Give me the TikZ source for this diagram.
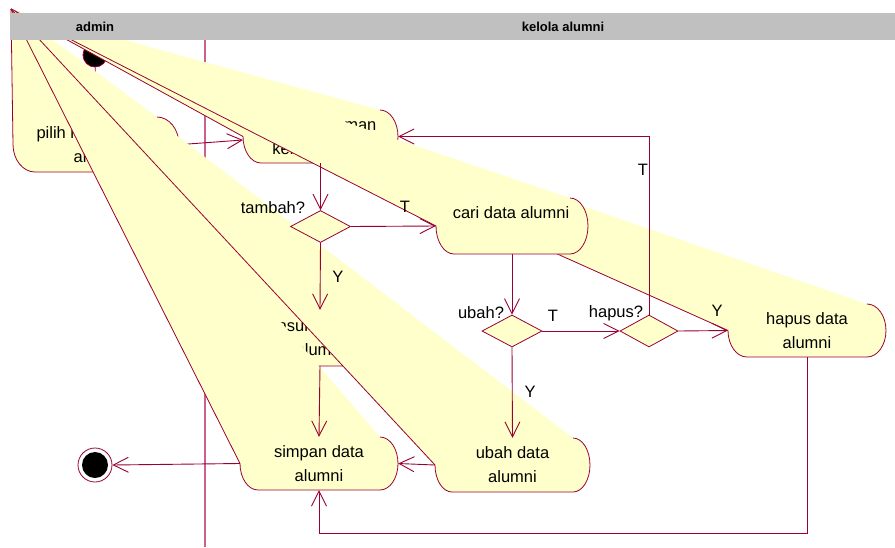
\documentclass[tikz,border=0pt]{standalone}
\usepackage{fontspec}
\setmainfont{Liberation Sans}
\usetikzlibrary{arrows.meta,shapes.geometric}
\definecolor{maroon}{RGB}{153,0,51}
\definecolor{lanecol}{RGB}{204,96,140}
\definecolor{actyellow}{RGB}{255,255,204}
\definecolor{hdr}{RGB}{192,192,192}
\newcommand\acttext{\fontsize{16.5}{24}\selectfont}
\newcommand\hdrtext{\bfseries\fontsize{13}{15}\selectfont}
\tikzset{
  actline/.style={draw=maroon, line width=0.8pt, line join=round},
  conn/.style={draw=maroon, line width=0.9pt, -{Straight Barb[length=15pt,width=15pt]}},
  plainconn/.style={draw=maroon, line width=0.9pt},
  actbox/.style={inner sep=0pt, align=center, font=\acttext, text=black},
  lbl/.style={inner sep=0pt, font=\acttext, text=black},
  decision/.style={diamond, draw=maroon, fill=actyellow, line width=0.8pt, inner sep=0pt, minimum width=60pt, minimum height=32pt},
}
% #1 L  #2 R  #3 T  #4 B  #5 rx  #6 ry
\newcommand\actshape[6]{%
  \fill[actyellow] (P0) -- ({#2-#5},#3)
    .. controls ({#2-0.448*#5},#3) and (#2,{#3+0.448*#6}) .. (#2,{#3+#6})
    .. controls (#2,{#4-0.448*#6}) and ({#2-0.448*#5},#4) .. ({#2-#5},#4)
    -- ({#1+#5},#4)
    .. controls ({#1+0.448*#5},#4) and (#1,{#4-0.448*#6}) .. (#1,{#4-#6}) -- cycle;
  \draw[actline] ({#2-#5},#3)
    .. controls ({#2-0.448*#5},#3) and (#2,{#3+0.448*#6}) .. (#2,{#3+#6})
    .. controls (#2,{#4-0.448*#6}) and ({#2-0.448*#5},#4) .. ({#2-#5},#4)
    -- ({#1+#5},#4)
    .. controls ({#1+0.448*#5},#4) and (#1,{#4-0.448*#6}) .. (#1,{#4-#6}) -- (P0);
}
\begin{document}
\begin{tikzpicture}[x=1pt,y=-1pt]
\useasboundingbox (0,0) rectangle (895,547);
\coordinate (P0) at (11,9);
% swimlane separator
\draw[lanecol, line width=1.1pt] (205,40) -- (205,547);
% start
\node[circle, fill=black, draw=maroon, line width=0.8pt, minimum size=24pt, inner sep=0pt] (start) at (95,55) {};
\coordinate (pilihN) at (96,117);
\draw[conn] (start) -- (pilihN);
% pilih menu kelola alumni
\actshape{13}{179}{117}{172}{22}{27.5}
\node[actbox, minimum width=166pt, minimum height=55pt] (pilih) at (98,144.5) {pilih menu kelola\\alumni};
\coordinate (halW) at (243,140);
\draw[conn] (pilih.east) -- (halW);
% halaman
\actshape{243}{398}{110}{163}{18}{26.5}
\node[actbox, minimum width=155pt, minimum height=53pt] (halaman) at (320.5,136.5) {tampil halaman\\kelola alumni};
% masukkan
\actshape{240}{400}{310}{366}{18}{28}
\node[actbox, minimum width=160pt, minimum height=56pt] (masukkan) at (320,338) {masukkan data\\alumni};
% simpan
\actshape{240}{398}{437}{490}{18}{26.5}
\node[actbox, minimum width=158pt, minimum height=53pt] (simpan) at (319,463.5) {simpan data\\alumni};
% hapus
\actshape{728}{886}{304}{357}{19}{26.5}
\node[actbox, minimum width=158pt, minimum height=53pt] (hapus) at (807,330.5) {hapus data\\alumni};
% cari
\actshape{436}{588}{198}{254}{18}{28}
\node[actbox, minimum width=152pt, minimum height=56pt] (cari) at (512,226) {};
\node[lbl] (caritext) at (511,213) {cari data alumni};
% ubah
\actshape{435}{590}{438}{492}{17}{27}
\node[actbox, minimum width=155pt, minimum height=54pt] (ubah) at (512.5,465) {ubah data\\alumni};
% decisions
\node[decision] (tambahq) at (320.5,226.5) {};
\node[decision] (ubahq) at (512,331) {};
\node[decision, minimum width=58pt] (hapusq) at (649,331) {};
% connectors
\draw[conn] (halaman.south) -- (tambahq.north);
\draw[conn] (tambahq.east) -- (cari.west);
\draw[conn] (tambahq.south) -- (masukkan.north);
\draw[conn] (masukkan.south) -- (simpan.north);
\draw[conn] (cari.south) -- (ubahq.north);
\draw[conn] (ubahq.east) -- (hapusq.west);
\draw[conn] (hapusq.east) -- (hapus.west);
\draw[conn] (hapusq.north) |- (halaman.east);
\draw[conn] (ubahq.south) -- (ubah.north);
\draw[conn] (ubah.west) -- (simpan.east);
\coordinate (loopB) at (807,533);
\draw[conn] (hapus.south) -- (loopB) -| (simpan.south);
% end
\node[circle, draw=maroon, fill=white, line width=0.8pt, minimum size=34pt, inner sep=0pt] (end) at (95,465) {};
\fill[black] (end.center) circle (13);
\draw[conn] (simpan.west) -- (end.east);
% labels
\node[lbl] (ltambah) at (273,208) {tambah?};
\node[lbl] (lT1) at (405,207) {T};
\node[lbl] (lY1) at (338,277) {Y};
\node[lbl] (lubah) at (481,313) {ubah?};
\node[lbl] (lT2) at (553,316) {T};
\node[lbl] (lhapus) at (616,313) {hapus?};
\node[lbl] (lY2) at (717,311) {Y};
\node[lbl] (lT3) at (643,170) {T};
\node[lbl] (lY3) at (530,392) {Y};
% header
\fill[hdr] (10,13) rectangle (895,40);
\node[font=\hdrtext, inner sep=0pt] (laneadmin) at (95,27) {admin};
\node[font=\hdrtext, inner sep=0pt] (lanekelola) at (563,27) {kelola alumni};
\end{tikzpicture}
\end{document}
